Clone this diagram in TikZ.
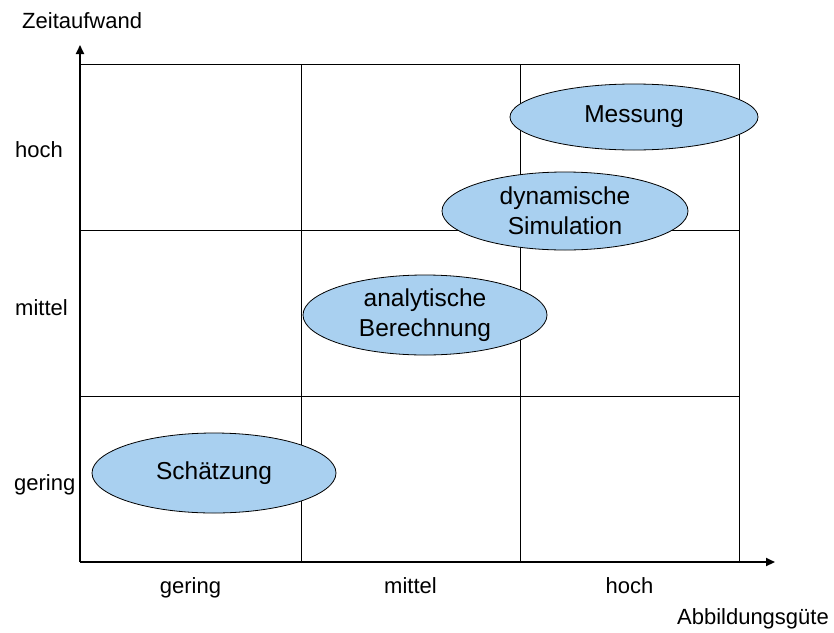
\documentclass[tikz,border=0pt]{standalone}
\usepackage{fontspec}
\setmainfont{Liberation Sans}
\usetikzlibrary{shapes.geometric,arrows.meta}
\definecolor{ellfill}{RGB}{169,208,240}
\begin{document}
\begin{tikzpicture}[x=1pt,y=-1pt,
  gridline/.style={draw=black,line width=0.9pt},
  axisline/.style={draw=black,line width=2pt,-{Triangle[length=9pt,width=8pt]}},
  lbl/.style={inner sep=0pt,font=\fontsize{22}{26}\selectfont},
  blob/.style={ellipse,draw=black,line width=0.8pt,fill=ellfill,inner sep=0pt,align=center,
    font=\fontsize{24.5}{30}\selectfont}]
\useasboundingbox (0,0) rectangle (834,632);
% grid
\coordinate (g00) at (80,64);
\coordinate (g30) at (739,64);
\draw[gridline] (g00) -- (g30);
\draw[gridline] (80,230) -- (739,230);
\draw[gridline] (80,396) -- (739,396);
\draw[gridline] (301,64) -- (301,562);
\draw[gridline] (520,64) -- (520,562);
\draw[gridline] (739,64) -- (739,562);
% axes
\coordinate (O) at (80,562);
\coordinate (ytip) at (80,45);
\coordinate (xtip) at (775,562);
\draw[axisline] (O) -- (ytip);
\draw[axisline] (O) -- (xtip);
% labels
\node[lbl,anchor=base west] (ylab) at (22,28) {Zeitaufwand};
\node[lbl,anchor=base west] (yh) at (15,157) {hoch};
\node[lbl,anchor=base west] (ym) at (15,315) {mittel};
\node[lbl,anchor=base west] (yg) at (14,490) {gering};
\node[lbl,anchor=base] (xg) at (190.5,593) {gering};
\node[lbl,anchor=base] (xm) at (410.5,593) {mittel};
\node[lbl,anchor=base] (xh) at (629.5,593) {hoch};
\node[lbl,anchor=base east] (xlab) at (829,624) {Abbildungsgüte};
% ellipses
\node[blob,minimum width=248pt,minimum height=66pt] (mess) at (634,117) {Messung};
\node[blob,minimum width=246pt,minimum height=78pt] (sim) at (565,211) {dynamische\\Simulation};
\node[blob,minimum width=244pt,minimum height=80pt] (ber) at (425,315) {analytische\\Berechnung};
\node[blob,minimum width=244pt,minimum height=80pt] (sch) at (214,473) {Schätzung};
\end{tikzpicture}
\end{document}
